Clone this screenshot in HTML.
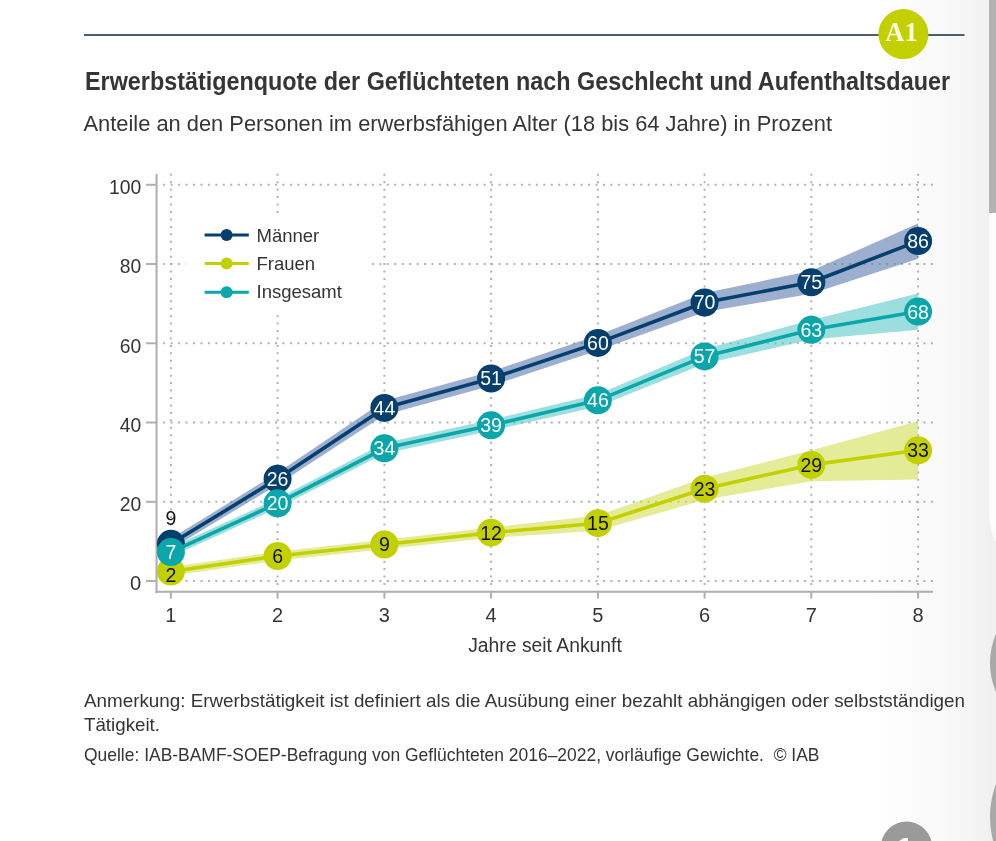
<!DOCTYPE html>
<html><head><meta charset="utf-8">
<style>
html,body{margin:0;padding:0;background:#fff;}
body{width:996px;height:841px;overflow:hidden;}
svg{display:block;font-family:"Liberation Sans",sans-serif;will-change:transform;}
.title{font-size:25px;font-weight:bold;fill:#353535;}
.sub{font-size:22px;fill:#353535;}
.yl{font-size:20.5px;fill:#353535;text-anchor:end;}
.xl{font-size:20px;fill:#353535;text-anchor:middle;}
.xt{font-size:19.5px;fill:#353535;text-anchor:middle;}
.lg{font-size:18.5px;fill:#353535;}
.ml{font-size:19.5px;text-anchor:middle;}
.ft{font-size:18.2px;fill:#353535;}
.a1{font-family:"Liberation Serif",serif;font-size:26.5px;font-weight:bold;fill:#fbfbe0;text-anchor:middle;}
.one{font-size:30px;font-weight:bold;fill:#fff;text-anchor:middle;}
</style></head><body>
<svg width="996" height="841" viewBox="0 0 996 841">
<defs>
<linearGradient id="bg" x1="0" x2="1" y1="0" y2="0">
<stop offset="0" stop-color="#ffffff"/>
<stop offset="0.5" stop-color="#fafafa"/>
<stop offset="0.8" stop-color="#f6f6f6"/>
<stop offset="1" stop-color="#f1f1f1"/>
</linearGradient>
</defs>
<rect x="0" y="0" width="996" height="841" fill="#ffffff"/>
<rect x="870" y="0" width="119" height="841" fill="url(#bg)"/>
<rect x="989" y="0" width="7" height="841" fill="#f0f0f0"/>
<path d="M989,213 H996 V542 Q989,532 989,503 Z" fill="#fcfcfc"/>
<rect x="989" y="0" width="7" height="213" fill="#b3b3b3"/>
<circle cx="1063" cy="663" r="73" fill="#a8a8a8"/>
<circle cx="1085" cy="817" r="95" fill="#a8a8a8"/>
<circle cx="906.5" cy="847" r="25.5" fill="#999b98"/>
<text x="905" y="857.5" class="one">1</text>

<rect x="84" y="34" width="880.5" height="2" fill="#4a5d73"/>
<circle cx="903.4" cy="34.1" r="25" fill="#c3d000"/>
<text x="901.5" y="41" class="a1">A1</text>

<text x="85" y="89.8" class="title" textLength="865" lengthAdjust="spacingAndGlyphs">Erwerbstätigenquote der Geflüchteten nach Geschlecht und Aufenthaltsdauer</text>
<text x="83.5" y="130.8" class="sub" textLength="748.5" lengthAdjust="spacingAndGlyphs">Anteile an den Personen im erwerbsfähigen Alter (18 bis 64 Jahre) in Prozent</text>

<line x1="163.2" y1="581.0" x2="934" y2="581.0" stroke="#b2b2b2" stroke-width="2" stroke-dasharray="2 5.453"/>
<line x1="163.2" y1="501.8" x2="934" y2="501.8" stroke="#b2b2b2" stroke-width="2" stroke-dasharray="2 5.453"/>
<line x1="163.2" y1="422.5" x2="934" y2="422.5" stroke="#b2b2b2" stroke-width="2" stroke-dasharray="2 5.453"/>
<line x1="163.2" y1="343.3" x2="934" y2="343.3" stroke="#b2b2b2" stroke-width="2" stroke-dasharray="2 5.453"/>
<line x1="163.2" y1="264.0" x2="934" y2="264.0" stroke="#b2b2b2" stroke-width="2" stroke-dasharray="2 5.453"/>
<line x1="163.2" y1="184.8" x2="934" y2="184.8" stroke="#b2b2b2" stroke-width="2" stroke-dasharray="2 5.453"/>
<line x1="170.9" y1="173.8" x2="170.9" y2="590" stroke="#b2b2b2" stroke-width="2" stroke-dasharray="2 5.44"/>
<line x1="277.6" y1="173.8" x2="277.6" y2="590" stroke="#b2b2b2" stroke-width="2" stroke-dasharray="2 5.44"/>
<line x1="384.4" y1="173.8" x2="384.4" y2="590" stroke="#b2b2b2" stroke-width="2" stroke-dasharray="2 5.44"/>
<line x1="491.1" y1="173.8" x2="491.1" y2="590" stroke="#b2b2b2" stroke-width="2" stroke-dasharray="2 5.44"/>
<line x1="597.9" y1="173.8" x2="597.9" y2="590" stroke="#b2b2b2" stroke-width="2" stroke-dasharray="2 5.44"/>
<line x1="704.6" y1="173.8" x2="704.6" y2="590" stroke="#b2b2b2" stroke-width="2" stroke-dasharray="2 5.44"/>
<line x1="811.3" y1="173.8" x2="811.3" y2="590" stroke="#b2b2b2" stroke-width="2" stroke-dasharray="2 5.44"/>
<line x1="918.1" y1="173.8" x2="918.1" y2="590" stroke="#b2b2b2" stroke-width="2" stroke-dasharray="2 5.44"/>
<polygon points="170.9,538.6 277.6,472.8 384.4,400.7 491.1,371.4 597.9,335.2 704.6,293.0 811.3,270.8 918.1,223.4 918.1,258.7 811.3,293.8 704.6,312.0 597.9,350.6 491.1,385.7 384.4,415.0 277.6,484.7 170.9,548.9" fill="#5a7aad" fill-opacity="0.6"/>
<polygon points="170.9,547.3 277.6,498.6 384.4,442.9 491.1,419.7 597.9,394.2 704.6,349.0 811.3,320.1 918.1,293.4 918.1,329.8 811.3,339.5 704.6,363.7 597.9,406.5 491.1,430.8 384.4,453.6 277.6,508.1 170.9,556.8" fill="#5cc8c8" fill-opacity="0.6"/>
<polygon points="170.9,567.1 277.6,551.7 384.4,539.8 491.1,527.5 597.9,515.6 704.6,477.6 811.3,450.3 918.1,421.3 918.1,479.6 811.3,481.2 704.6,499.8 597.9,530.7 491.1,537.8 384.4,549.3 277.6,560.4 170.9,575.8" fill="#d2df53" fill-opacity="0.6"/>
<rect x="186" y="214" width="183" height="97" fill="#ffffff"/>
<g>
<line x1="204.6" y1="235.1" x2="248.8" y2="235.1" stroke="#053f6e" stroke-width="3"/>
<circle cx="226.6" cy="235.1" r="6" fill="#053f6e"/>
<text x="256.5" y="241.5" class="lg">Männer</text>
<line x1="204.6" y1="263.6" x2="248.8" y2="263.6" stroke="#c3d000" stroke-width="3"/>
<circle cx="226.6" cy="263.6" r="6" fill="#c3d000"/>
<text x="256.5" y="269.8" class="lg">Frauen</text>
<line x1="204.6" y1="292.3" x2="248.8" y2="292.3" stroke="#0aa6aa" stroke-width="3"/>
<circle cx="226.6" cy="292.3" r="6" fill="#0aa6aa"/>
<text x="256.5" y="298.4" class="lg">Insgesamt</text>
</g>
<rect x="155.5" y="174" width="2.1" height="419" fill="#b0afb3"/>
<rect x="155.5" y="590.7" width="777.5" height="2.1" fill="#b0afb3"/>
<rect x="146" y="580.0" width="10" height="2" fill="#b0afb3"/>
<rect x="146" y="500.8" width="10" height="2" fill="#b0afb3"/>
<rect x="146" y="421.5" width="10" height="2" fill="#b0afb3"/>
<rect x="146" y="342.3" width="10" height="2" fill="#b0afb3"/>
<rect x="146" y="263.0" width="10" height="2" fill="#b0afb3"/>
<rect x="146" y="183.8" width="10" height="2" fill="#b0afb3"/>
<rect x="169.9" y="592" width="2" height="6.6" fill="#b0afb3"/>
<rect x="276.6" y="592" width="2" height="6.6" fill="#b0afb3"/>
<rect x="383.4" y="592" width="2" height="6.6" fill="#b0afb3"/>
<rect x="490.1" y="592" width="2" height="6.6" fill="#b0afb3"/>
<rect x="596.9" y="592" width="2" height="6.6" fill="#b0afb3"/>
<rect x="703.6" y="592" width="2" height="6.6" fill="#b0afb3"/>
<rect x="810.3" y="592" width="2" height="6.6" fill="#b0afb3"/>
<rect x="917.1" y="592" width="2" height="6.6" fill="#b0afb3"/>
<text x="141.3" y="590.4" class="yl" textLength="11.2" lengthAdjust="spacingAndGlyphs">0</text>
<text x="141.3" y="511.2" class="yl" textLength="21.5" lengthAdjust="spacingAndGlyphs">20</text>
<text x="141.3" y="431.9" class="yl" textLength="21.5" lengthAdjust="spacingAndGlyphs">40</text>
<text x="141.3" y="352.7" class="yl" textLength="21.5" lengthAdjust="spacingAndGlyphs">60</text>
<text x="141.3" y="273.4" class="yl" textLength="21.5" lengthAdjust="spacingAndGlyphs">80</text>
<text x="141.3" y="194.2" class="yl" textLength="32.3" lengthAdjust="spacingAndGlyphs">100</text>
<text x="170.9" y="621.8" class="xl">1</text>
<text x="277.6" y="621.8" class="xl">2</text>
<text x="384.4" y="621.8" class="xl">3</text>
<text x="491.1" y="621.8" class="xl">4</text>
<text x="597.9" y="621.8" class="xl">5</text>
<text x="704.6" y="621.8" class="xl">6</text>
<text x="811.3" y="621.8" class="xl">7</text>
<text x="918.1" y="621.8" class="xl">8</text>
<text x="545" y="651.5" class="xt" textLength="153.7" lengthAdjust="spacingAndGlyphs">Jahre seit Ankunft</text>

<polyline points="170.9,571.5 277.6,556.0 384.4,544.5 491.1,532.7 597.9,523.2 704.6,488.7 811.3,464.9 918.1,450.3" fill="none" stroke="#c3d000" stroke-width="3.6" stroke-linejoin="round"/>
<circle cx="170.9" cy="571.5" r="14.0" fill="#c3d000"/>
<circle cx="277.6" cy="556.0" r="14.0" fill="#c3d000"/>
<circle cx="384.4" cy="544.5" r="14.0" fill="#c3d000"/>
<circle cx="491.1" cy="532.7" r="14.0" fill="#c3d000"/>
<circle cx="597.9" cy="523.2" r="14.0" fill="#c3d000"/>
<circle cx="704.6" cy="488.7" r="14.0" fill="#c3d000"/>
<circle cx="811.3" cy="464.9" r="14.0" fill="#c3d000"/>
<circle cx="918.1" cy="450.3" r="14.0" fill="#c3d000"/>
<text x="277.6" y="562.9" fill="#111111" class="ml">6</text>
<text x="384.4" y="551.4" fill="#111111" class="ml">9</text>
<text x="491.1" y="539.6" fill="#111111" class="ml">12</text>
<text x="597.9" y="530.1" fill="#111111" class="ml">15</text>
<text x="704.6" y="495.6" fill="#111111" class="ml">23</text>
<text x="811.3" y="471.8" fill="#111111" class="ml">29</text>
<text x="918.1" y="457.2" fill="#111111" class="ml">33</text>
<text x="170.9" y="581.7" fill="#111111" class="ml">2</text>
<polyline points="170.9,543.8 277.6,478.8 384.4,407.9 491.1,378.5 597.9,342.9 704.6,302.5 811.3,282.3 918.1,241.1" fill="none" stroke="#053f6e" stroke-width="3.6" stroke-linejoin="round"/>
<circle cx="170.9" cy="543.8" r="14.0" fill="#053f6e"/>
<circle cx="277.6" cy="478.8" r="14.0" fill="#053f6e"/>
<circle cx="384.4" cy="407.9" r="14.0" fill="#053f6e"/>
<circle cx="491.1" cy="378.5" r="14.0" fill="#053f6e"/>
<circle cx="597.9" cy="342.9" r="14.0" fill="#053f6e"/>
<circle cx="704.6" cy="302.5" r="14.0" fill="#053f6e"/>
<circle cx="811.3" cy="282.3" r="14.0" fill="#053f6e"/>
<circle cx="918.1" cy="241.1" r="14.0" fill="#053f6e"/>
<text x="277.6" y="485.7" fill="#ffffff" class="ml">26</text>
<text x="384.4" y="414.8" fill="#ffffff" class="ml">44</text>
<text x="491.1" y="385.4" fill="#ffffff" class="ml">51</text>
<text x="597.9" y="349.8" fill="#ffffff" class="ml">60</text>
<text x="704.6" y="309.4" fill="#ffffff" class="ml">70</text>
<text x="811.3" y="289.2" fill="#ffffff" class="ml">75</text>
<text x="918.1" y="248.0" fill="#ffffff" class="ml">86</text>
<text x="170.9" y="524.6" fill="#111111" class="ml">9</text>
<polyline points="170.9,552.1 277.6,503.3 384.4,448.3 491.1,425.3 597.9,400.3 704.6,356.4 811.3,329.8 918.1,311.6" fill="none" stroke="#0aa6aa" stroke-width="3.6" stroke-linejoin="round"/>
<circle cx="170.9" cy="552.1" r="14.0" fill="#0aa6aa"/>
<circle cx="277.6" cy="503.3" r="14.0" fill="#0aa6aa"/>
<circle cx="384.4" cy="448.3" r="14.0" fill="#0aa6aa"/>
<circle cx="491.1" cy="425.3" r="14.0" fill="#0aa6aa"/>
<circle cx="597.9" cy="400.3" r="14.0" fill="#0aa6aa"/>
<circle cx="704.6" cy="356.4" r="14.0" fill="#0aa6aa"/>
<circle cx="811.3" cy="329.8" r="14.0" fill="#0aa6aa"/>
<circle cx="918.1" cy="311.6" r="14.0" fill="#0aa6aa"/>
<text x="170.9" y="559.0" fill="#ffffff" class="ml">7</text>
<text x="277.6" y="510.2" fill="#ffffff" class="ml">20</text>
<text x="384.4" y="455.2" fill="#ffffff" class="ml">34</text>
<text x="491.1" y="432.2" fill="#ffffff" class="ml">39</text>
<text x="597.9" y="407.2" fill="#ffffff" class="ml">46</text>
<text x="704.6" y="363.3" fill="#ffffff" class="ml">57</text>
<text x="811.3" y="336.7" fill="#ffffff" class="ml">63</text>
<text x="918.1" y="318.5" fill="#ffffff" class="ml">68</text>

<text x="84" y="707" class="ft" textLength="881" lengthAdjust="spacingAndGlyphs">Anmerkung: Erwerbstätigkeit ist definiert als die Ausübung einer bezahlt abhängigen oder selbstständigen</text>
<text x="84" y="731" class="ft" textLength="76" lengthAdjust="spacingAndGlyphs">Tätigkeit.</text>
<text x="84" y="761.2" class="ft" textLength="735.5" lengthAdjust="spacingAndGlyphs">Quelle: IAB-BAMF-SOEP-Befragung von Geflüchteten 2016–2022, vorläufige Gewichte.&#160; © IAB</text>
</svg>
</body></html>
